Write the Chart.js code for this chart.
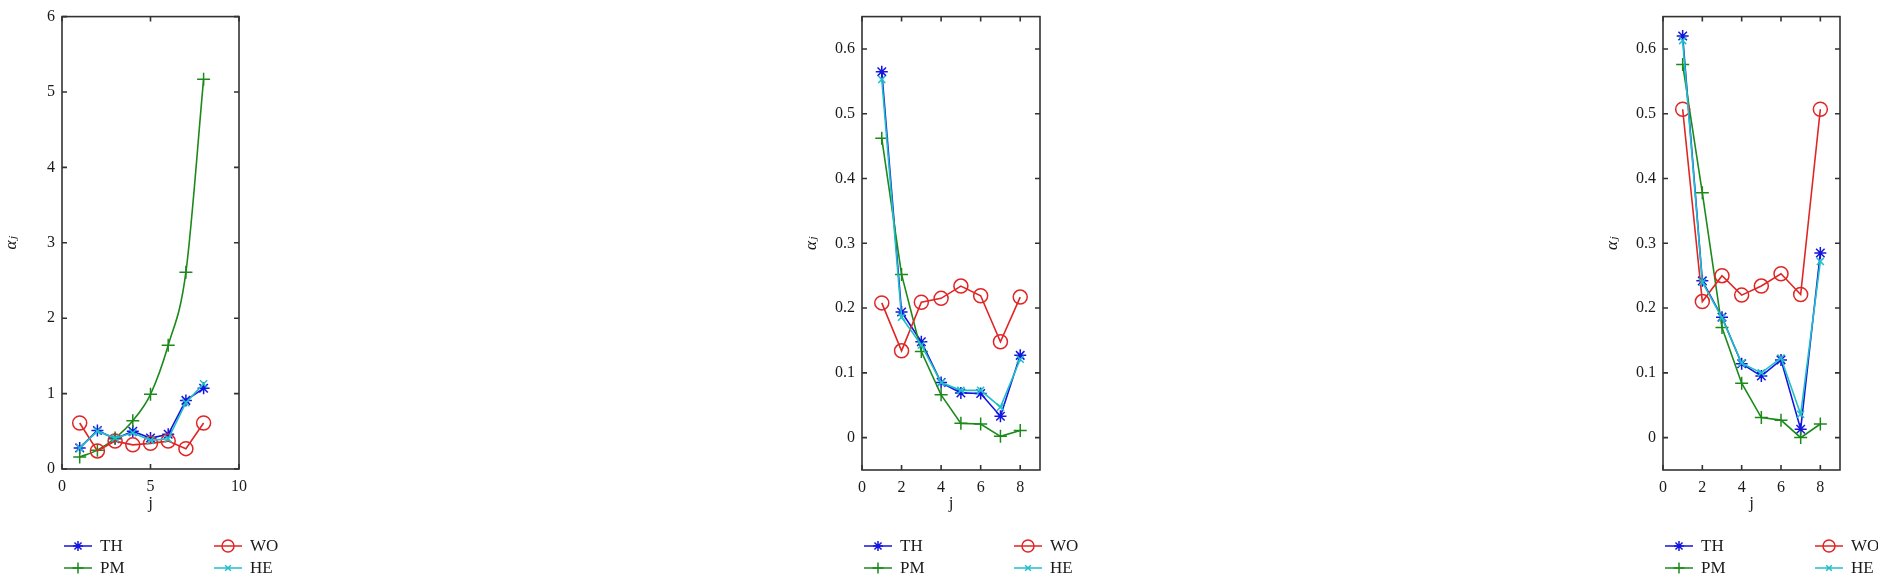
<!DOCTYPE html>
<html>
<head>
<meta charset="utf-8">
<script src="https://cdn.jsdelivr.net/npm/chart.js@4.4.0/dist/chart.umd.min.js"></script>
<style>
  html, body { margin: 0; padding: 0; background: #fff; overflow: hidden; width: 1878px; height: 578px; }
  canvas { position: absolute; top: 0; }
</style>
</head>
<body>
<canvas id="panel1" width="290" height="578"></canvas>
<canvas id="panel2" width="290" height="578"></canvas>
<canvas id="panel3" width="290" height="578"></canvas>
<script>
const jValues = [1, 2, 3, 4, 5, 6, 7, 8];
const seriesNames = ['TH', 'PM', 'WO', 'HE'];

// panel 1
const th1 = [0.28, 0.51, 0.40, 0.50, 0.41, 0.46, 0.91, 1.07];
const pm1 = [0.16, 0.25, 0.41, 0.64, 0.99, 1.64, 2.61, 5.17];
const wo1 = [0.61, 0.24, 0.37, 0.32, 0.34, 0.37, 0.27, 0.61];
const he1 = [0.28, 0.50, 0.41, 0.48, 0.38, 0.40, 0.88, 1.13];

// panel 2
const th2 = [0.565, 0.194, 0.148, 0.085, 0.069, 0.068, 0.033, 0.127];
const pm2 = [0.462, 0.252, 0.133, 0.066, 0.022, 0.021, 0.002, 0.011];
const wo2 = [0.208, 0.134, 0.209, 0.215, 0.234, 0.219, 0.148, 0.217];
const he2 = [0.553, 0.186, 0.143, 0.085, 0.073, 0.073, 0.047, 0.121];

// panel 3
const th3 = [0.620, 0.242, 0.186, 0.114, 0.095, 0.120, 0.013, 0.285];
const pm3 = [0.576, 0.378, 0.170, 0.084, 0.031, 0.027, 0.000, 0.021];
const wo3 = [0.507, 0.210, 0.250, 0.220, 0.234, 0.253, 0.221, 0.507];
const he3 = [0.613, 0.240, 0.185, 0.115, 0.100, 0.123, 0.036, 0.272];

const xTicks1 = ['0', '5', '10'];
const yTicks1 = ['0', '1', '2', '3', '4', '5', '6'];
const xTicks23 = ['0', '2', '4', '6', '8'];
const yTicks23 = ['0', '0.1', '0.2', '0.3', '0.4', '0.5', '0.6'];

const colors = ['#1515e0', '#1b8a1b', '#e02525', '#20bfc8'];
const markers = ['star', 'cross', 'circle', 'crossRot'];
const markerSize = [6, 6.5, 7, 5];
const serif = "'Liberation Serif', 'DejaVu Serif', serif";

const frame = {
    id: 'frame',
    afterDatasetsDraw(chart) {
        const ctx = chart.ctx;
        const a = chart.chartArea;
        const x = chart.scales.x, y = chart.scales.y;
        ctx.save();
        ctx.strokeStyle = '#333';
        ctx.lineWidth = 1.6;
        ctx.strokeRect(a.left, a.top, a.right - a.left, a.bottom - a.top);
        ctx.beginPath();
        x.ticks.forEach(t => {
            const px = x.getPixelForValue(t.value);
            ctx.moveTo(px, a.bottom); ctx.lineTo(px, a.bottom - 5);
            ctx.moveTo(px, a.top); ctx.lineTo(px, a.top + 5);
        });
        y.ticks.forEach(t => {
            const py = y.getPixelForValue(t.value);
            ctx.moveTo(a.left, py); ctx.lineTo(a.left + 5, py);
            ctx.moveTo(a.right, py); ctx.lineTo(a.right - 5, py);
        });
        ctx.stroke();

        // legend in two columns
        ctx.font = '17px ' + serif;
        ctx.textBaseline = 'middle';
        chart.data.datasets.forEach((ds, i) => {
            const col = Math.floor(i / 2), row = i % 2;
            const x0 = a.left + 2 + col * 150;
            const yy = 546 + row * 22;
            ctx.strokeStyle = ds.borderColor;
            ctx.fillStyle = 'rgba(0,0,0,0)';
            ctx.lineWidth = 1.5;
            ctx.beginPath();
            ctx.moveTo(x0, yy); ctx.lineTo(x0 + 28, yy);
            ctx.stroke();
            Chart.helpers.drawPoint(ctx, {
                pointStyle: ds.pointStyle, radius: ds.pointRadius - 1, rotation: 0, borderWidth: 1.5
            }, x0 + 14, yy);
            ctx.fillStyle = '#1a1a1a';
            ctx.fillText(ds.label, x0 + 36, yy + 1);
        });
        ctx.restore();
    }
};

function makePanel(id, box, series, xTicks, yTicks, xMax, yMin, yMax, smoothPM) {
    const canvas = document.getElementById(id);
    const left = box.L - 62;
    canvas.style.left = left + 'px';
    const xVals = xTicks.map(parseFloat);
    const yVals = yTicks.map(parseFloat);
    new Chart(canvas, {
        type: 'line',
        data: {
            datasets: series.map((vals, i) => ({
                label: seriesNames[i],
                data: vals.map((v, k) => ({ x: jValues[k], y: v })),
                order: series.length - i,   // later series drawn on top, as in the original
                borderColor: colors[i],
                backgroundColor: colors[i],
                pointBorderColor: colors[i],
                pointBackgroundColor: 'rgba(0,0,0,0)',
                pointStyle: markers[i],
                pointRadius: markerSize[i],
                pointBorderWidth: 1.5,
                borderWidth: 1.6,
                cubicInterpolationMode: (smoothPM && i === 1) ? 'monotone' : 'default',
                fill: false
            }))
        },
        options: {
            responsive: false,
            maintainAspectRatio: false,
            devicePixelRatio: 1,
            animation: false,
            events: [],
            layout: {
                padding: { left: 0, top: box.T, right: 290 - 62 - (box.R - box.L), bottom: 63 }
            },
            scales: {
                x: {
                    type: 'linear',
                    min: 0,
                    max: xMax,
                    grid: { display: false, drawTicks: false },
                    border: { display: false },
                    afterBuildTicks: s => { s.ticks = xVals.map(v => ({ value: v })); },
                    afterFit: s => { s.height = 515 - box.B; },
                    ticks: {
                        padding: 8,
                        color: '#1a1a1a',
                        font: { family: serif, size: 16 },
                        callback: v => xTicks[xVals.indexOf(v)]
                    },
                    title: {
                        display: true,
                        text: 'j',
                        color: '#1a1a1a',
                        font: { family: serif, size: 17 },
                        padding: { top: 0, bottom: 1 }
                    }
                },
                y: {
                    type: 'linear',
                    min: yMin,
                    max: yMax,
                    grid: { display: false, drawTicks: false },
                    border: { display: false },
                    afterBuildTicks: s => { s.ticks = yVals.map(v => ({ value: v })); },
                    afterFit: s => { s.width = 62; },
                    ticks: {
                        padding: 7,
                        color: '#1a1a1a',
                        font: { family: serif, size: 16 },
                        callback: v => yTicks[yVals.indexOf(v)]
                    },
                    title: {
                        display: true,
                        text: 'α\u2C7C',
                        color: '#1a1a1a',
                        font: { family: serif, size: 17, style: 'italic' },
                        padding: { top: 1, bottom: 0 }
                    }
                }
            },
            plugins: {
                legend: { display: false },
                tooltip: { enabled: false }
            }
        },
        plugins: [frame]
    });
}

makePanel('panel1', { L: 62, R: 239, T: 7, B: 469 }, [th1, pm1, wo1, he1], xTicks1, yTicks1, 10, 0, 6, true);
makePanel('panel2', { L: 862, R: 1040, T: 4, B: 470 }, [th2, pm2, wo2, he2], xTicks23, yTicks23, 9, -0.05, 0.65, false);
makePanel('panel3', { L: 1663, R: 1840, T: 5, B: 470 }, [th3, pm3, wo3, he3], xTicks23, yTicks23, 9, -0.05, 0.65, false);
</script>
</body>
</html>
